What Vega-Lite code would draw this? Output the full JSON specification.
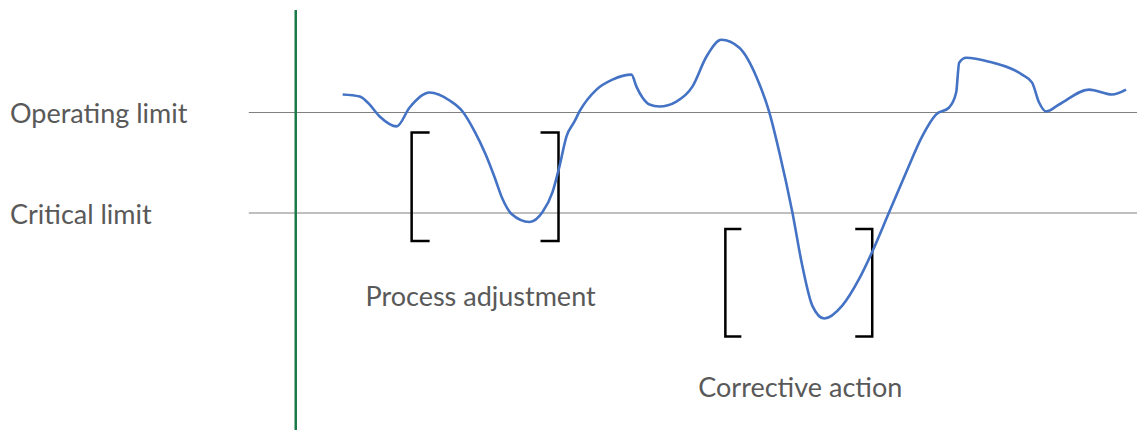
{
  "$schema": "https://vega.github.io/schema/vega-lite/v6.json",
  "width": 1138,
  "height": 432,
  "padding": 0,
  "autosize": {"type": "fit", "contains": "padding"},
  "background": "white",
  "config": {"view": {"stroke": null}},
  "datasets": {
    "process": [
      {"t": 343, "v": 95}, {"t": 360, "v": 97}, {"t": 368, "v": 103}, {"t": 380, "v": 117},
      {"t": 397, "v": 127}, {"t": 410, "v": 108}, {"t": 430, "v": 93}, {"t": 450, "v": 101},
      {"t": 463, "v": 112}, {"t": 475, "v": 132}, {"t": 486, "v": 155}, {"t": 495, "v": 178},
      {"t": 503, "v": 200}, {"t": 512, "v": 215}, {"t": 530, "v": 223}, {"t": 543, "v": 213},
      {"t": 553, "v": 193}, {"t": 560, "v": 167}, {"t": 567, "v": 137}, {"t": 575, "v": 122},
      {"t": 580, "v": 112}, {"t": 597, "v": 90}, {"t": 613, "v": 80}, {"t": 632, "v": 75},
      {"t": 637, "v": 87}, {"t": 643, "v": 98}, {"t": 650, "v": 105}, {"t": 660, "v": 107},
      {"t": 677, "v": 102}, {"t": 693, "v": 87}, {"t": 707, "v": 57}, {"t": 722, "v": 40},
      {"t": 740, "v": 48}, {"t": 757, "v": 77}, {"t": 770, "v": 113}, {"t": 780, "v": 153},
      {"t": 793, "v": 213}, {"t": 803, "v": 267}, {"t": 813, "v": 307}, {"t": 825, "v": 320},
      {"t": 843, "v": 307}, {"t": 860, "v": 280}, {"t": 873, "v": 253}, {"t": 890, "v": 213},
      {"t": 907, "v": 173}, {"t": 923, "v": 137}, {"t": 937, "v": 115}, {"t": 950, "v": 108},
      {"t": 957, "v": 93}, {"t": 960, "v": 63}, {"t": 967, "v": 58}, {"t": 990, "v": 62},
      {"t": 1023, "v": 75}, {"t": 1033, "v": 83}, {"t": 1040, "v": 103}, {"t": 1047, "v": 112},
      {"t": 1060, "v": 105}, {"t": 1090, "v": 90}, {"t": 1113, "v": 95}, {"t": 1127, "v": 90}
    ],
    "limits": [
      {"name": "Operating limit", "v": 113, "t0": 249, "t1": 1138, "lt": 10},
      {"name": "Critical limit", "v": 214, "t0": 249, "t1": 1138, "lt": 10}
    ],
    "axisline": [{"t": 296, "v0": 10, "v1": 432}],
    "brackets": [
      {"id": "a1", "o": 0, "t": 430, "v": 133}, {"id": "a1", "o": 1, "t": 412, "v": 133},
      {"id": "a1", "o": 2, "t": 412, "v": 242}, {"id": "a1", "o": 3, "t": 430, "v": 242},
      {"id": "a2", "o": 0, "t": 541, "v": 133}, {"id": "a2", "o": 1, "t": 559, "v": 133},
      {"id": "a2", "o": 2, "t": 559, "v": 242}, {"id": "a2", "o": 3, "t": 541, "v": 242},
      {"id": "b1", "o": 0, "t": 742, "v": 230}, {"id": "b1", "o": 1, "t": 726, "v": 230},
      {"id": "b1", "o": 2, "t": 726, "v": 338}, {"id": "b1", "o": 3, "t": 742, "v": 338},
      {"id": "b2", "o": 0, "t": 856, "v": 230}, {"id": "b2", "o": 1, "t": 873, "v": 230},
      {"id": "b2", "o": 2, "t": 873, "v": 338}, {"id": "b2", "o": 3, "t": 856, "v": 338}
    ],
    "notes": [
      {"text": "Process adjustment", "t": 481, "v": 296},
      {"text": "Corrective action", "t": 801, "v": 388}
    ]
  },
  "layer": [
    {
      "data": {"name": "limits"},
      "mark": {"type": "rule", "color": "#808080", "strokeWidth": 1.2},
      "encoding": {
        "x": {"field": "t0", "type": "quantitative", "scale": {"domain": [0, 1138], "nice": false, "zero": false}, "axis": null},
        "x2": {"field": "t1"},
        "y": {"field": "v", "type": "quantitative", "scale": {"domain": [0, 432], "reverse": true, "nice": false, "zero": false}, "axis": null}
      }
    },
    {
      "data": {"name": "limits"},
      "mark": {"type": "text", "align": "left", "baseline": "middle", "dy": 3, "font": "Lato", "fontSize": 27, "color": "#595959"},
      "encoding": {
        "x": {"field": "lt", "type": "quantitative"},
        "y": {"field": "v", "type": "quantitative"},
        "text": {"field": "name"}
      }
    },
    {
      "data": {"name": "axisline"},
      "mark": {"type": "rule", "color": "#1a7a46", "strokeWidth": 2.5},
      "encoding": {
        "x": {"field": "t", "type": "quantitative"},
        "y": {"field": "v0", "type": "quantitative"},
        "y2": {"field": "v1"}
      }
    },
    {
      "data": {"name": "brackets"},
      "mark": {"type": "line", "color": "#000000", "strokeWidth": 2.5, "strokeJoin": "miter"},
      "encoding": {
        "x": {"field": "t", "type": "quantitative"},
        "y": {"field": "v", "type": "quantitative"},
        "detail": {"field": "id"},
        "order": {"field": "o", "type": "quantitative"}
      }
    },
    {
      "data": {"name": "process"},
      "mark": {"type": "line", "color": "#4472C4", "strokeWidth": 2.6, "interpolate": "monotone"},
      "encoding": {
        "x": {"field": "t", "type": "quantitative"},
        "y": {"field": "v", "type": "quantitative"}
      }
    },
    {
      "data": {"name": "notes"},
      "mark": {"type": "text", "align": "center", "baseline": "middle", "dy": 3, "font": "Lato", "fontSize": 27, "color": "#595959"},
      "encoding": {
        "x": {"field": "t", "type": "quantitative"},
        "y": {"field": "v", "type": "quantitative"},
        "text": {"field": "text"}
      }
    }
  ]
}
